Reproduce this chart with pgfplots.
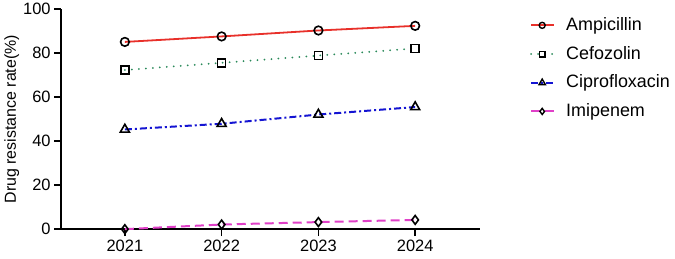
\documentclass[border=0pt]{standalone}
\usepackage{fontspec}
\setmainfont{Liberation Sans}
\usepackage{pgfplots}
\pgfplotsset{compat=1.18}
\definecolor{cA}{HTML}{E8302A}
\definecolor{cC}{HTML}{2A8A5A}
\definecolor{cP}{HTML}{1414D2}
\definecolor{cI}{HTML}{E040C8}
\begin{document}
\begin{tikzpicture}
\begin{axis}[
  at={(0,0)}, anchor=origin,
  scale only axis, width=419bp, height=220bp,
  xmin=2020.34, xmax=2024.67, ymin=0, ymax=100,
  axis x line*=bottom, axis y line*=left,
  axis line style={line width=1.8bp, -},
  xtick={2021,2022,2023,2024},
  xticklabels={2021,2022,2023,2024},
  ytick={0,20,40,60,80,100},
  tick align=outside, major tick length=7bp,
  tick style={line width=1.6bp, black},
  /pgf/number format/assume math mode=true,
  ticklabel style={font=\fontsize{16.5}{19}\selectfont},
  ylabel={Drug resistance rate(\%)},
  ylabel style={font=\fontsize{16}{19}\selectfont, yshift=-3bp},
  clip=false,
  legend style={at={(469bp,212bp)}, anchor=north west, draw=none, fill=none,
    font=\fontsize{18}{21}\selectfont, /tikz/row sep=12.7bp, inner sep=0pt,
    nodes={inner xsep=5bp, inner ysep=0pt, text height=13bp, text depth=3bp},
    legend cell align=left},
  legend image code/.code={\draw[mark=none] (0bp,0bp) -- (23bp,0bp);
     \path (29bp,0bp);
     \draw[mark options={solid,black,fill=white,line width=1.4bp,scale=0.7}] plot coordinates {(11bp,0bp)};},
  every axis plot/.append style={mark options={solid, black, fill=white, line width=1.6bp}},
]
\addplot[cA, line width=1.8bp, mark=o, mark size=4.3bp] coordinates {(2021,85.1) (2022,87.6) (2023,90.3) (2024,92.4)};
\addlegendentry{Ampicillin}
\addplot[cC, line width=2bp, line cap=round, dash pattern=on 0bp off 7bp, mark=square, mark size=4bp] coordinates {(2021,72.3) (2022,75.6) (2023,78.9) (2024,82.1)};
\addlegendentry{Cefozolin}
\addplot[cP, line width=2bp, dash pattern=on 7bp off 3bp on 2bp off 3bp, mark=triangle, mark size=5.2bp] coordinates {(2021,45.3) (2022,47.9) (2023,52.1) (2024,55.5)};
\addlegendentry{Ciprofloxacin}
\addplot[cI, line width=2bp, dash pattern=on 9bp off 5bp, mark=diamond, mark size=4.4bp] coordinates {(2021,0) (2022,2.1) (2023,3.2) (2024,4.2)};
\addlegendentry{Imipenem}
\end{axis}
\path[use as bounding box] (-61bp,-29bp) rectangle (614bp,228bp);
\end{tikzpicture}
\end{document}
